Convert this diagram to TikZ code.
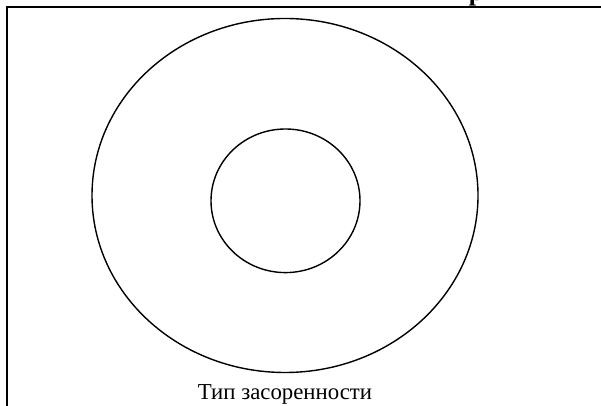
\documentclass[tikz,border=0pt]{standalone}
\usepackage{fontspec}
\setmainfont{Liberation Serif}
\begin{document}
\begin{tikzpicture}[x=1pt,y=1pt,
  frameline/.style={line width=2pt, line cap=rect},
  ring/.style={draw, line width=1.4pt},
  caption/.style={font=\fontsize{22.8}{24}\selectfont, inner sep=0pt, anchor=base}]
\useasboundingbox (0,0) rectangle (601,406);
\draw[frameline] (7,0) -- (7,399) -- (601,399);
\draw[ring] (285,210.5) ellipse [x radius=193, y radius=177];
\draw[ring] (285.5,205.2) ellipse [x radius=74.5, y radius=71.8];
\node[caption] (cap) at (285,6) {Тип засоренности};
\begin{scope}
\clip (0,400) rectangle (601,406);
\node[font=\bfseries\fontsize{26}{28}\selectfont, inner sep=0pt, anchor=base] (frag) at (476,405.5) {р};
\end{scope}
\end{tikzpicture}
\end{document}
